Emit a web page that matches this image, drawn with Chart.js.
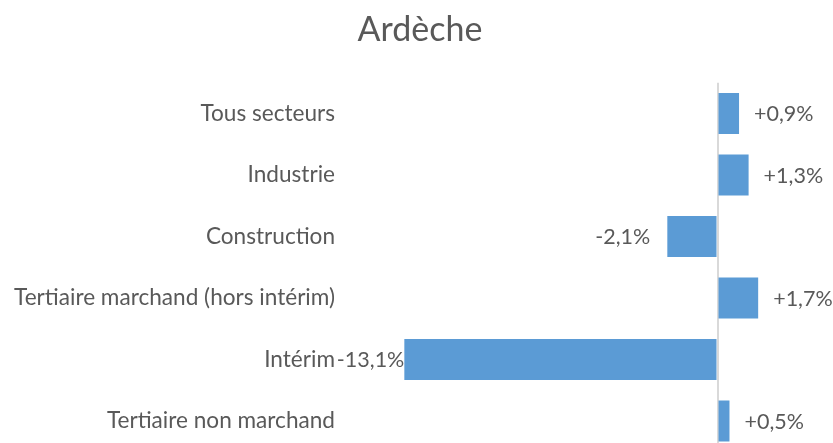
<!DOCTYPE html>
<html><head><meta charset="utf-8">
<script src="https://cdn.jsdelivr.net/npm/chart.js@4/dist/chart.umd.min.js"></script>
<style>html,body{margin:0;padding:0;background:#fff;overflow:hidden}#wrap{width:833px;height:470px;position:relative}</style>
</head><body><div id="wrap"><canvas id="c" width="833" height="470"></canvas></div>
<script>
const titleText = "Ardèche";
const categories = ["Tous secteurs","Industrie","Construction","Tertiaire marchand (hors intérim)","Intérim","Tertiaire non marchand"];
const values = [0.9, 1.3, -2.1, 1.7, -13.1, 0.5];
const labelTexts = ["+0,9%","+1,3%","-2,1%","+1,7%","-13,1%","+0,5%"];
const FONT = "Lato, 'Open Sans', sans-serif";
const TXT = "#595959";

const labelPlugin = {
  id: 'barLabels',
  afterDatasetsDraw(chart) {
    const ctx = chart.ctx, area = chart.chartArea;
    const meta = chart.getDatasetMeta(0);
    ctx.save();
    ctx.font = "21.5px " + FONT;
    ctx.fillStyle = TXT;
    ctx.textBaseline = 'middle';
    ctx.textAlign = 'left';
    meta.data.forEach((bar, i) => {
      const t = labelTexts[i];
      const w = ctx.measureText(t).width;
      let x;
      if (values[i] >= 0) { x = bar.x + 15; }
      else { x = bar.x - 17 - w; if (x < area.left + 6) x = bar.x - w; }
      ctx.fillText(t, x, bar.y + 1);
    });
    ctx.restore();
  }
};

new Chart(document.getElementById('c'), {
  type: 'bar',
  data: { labels: categories, datasets: [{ data: values, backgroundColor: '#5B9BD5', categoryPercentage: 1, barPercentage: 0.667 }] },
  options: {
    indexAxis: 'y', responsive: false, animation: false,
    layout: { padding: { left: 7, right: 0, top: 0, bottom: 18.2 } },
    plugins: {
      legend: { display: false }, tooltip: { enabled: false },
      title: { display: true, text: titleText, color: TXT, font: { family: FONT, size: 34, weight: 'normal' }, padding: { top: 10, bottom: 32 } }
    },
    scales: {
      x: { min: -16, max: 4.83, ticks: { display: false }, border: { display: false },
           grid: { drawTicks: false, lineWidth: 2, color: c => c.tick && c.tick.value === 0 ? '#D9D9D9' : 'rgba(0,0,0,0)' },
           afterFit: s => { s.height = 0; } },
      y: { grid: { display: false, drawTicks: false }, border: { display: false },
           ticks: { color: TXT, font: { family: FONT, size: 22.6 }, padding: 0 },
           afterFit: s => { s.width = 328; } }
    }
  },
  plugins: [labelPlugin]
});
</script></body></html>
